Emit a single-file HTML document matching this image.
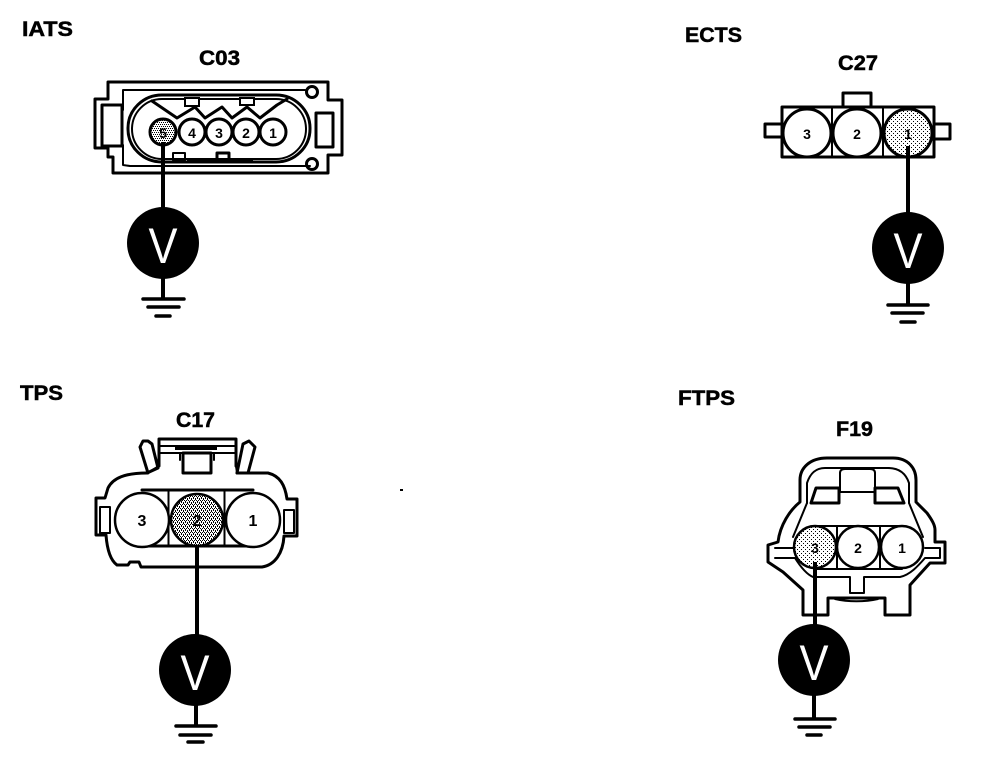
<!DOCTYPE html>
<html><head><meta charset="utf-8">
<style>
html,body{margin:0;padding:0;background:#fff}
svg{display:block}
text{font-family:"Liberation Sans",sans-serif}
.t{font-weight:700;font-size:21px;fill:#000;stroke:#000;stroke-width:.5}
.n{font-weight:700;fill:#000;text-anchor:middle;font-size:14px}
.nb{font-weight:700;fill:#000;text-anchor:middle;font-size:16px}
.v{font-size:50px;fill:#fff;text-anchor:middle}
.l{fill:none;stroke:#000;stroke-width:2;stroke-linejoin:round;stroke-linecap:round}
.th{fill:none;stroke:#000;stroke-width:3;stroke-linejoin:round;stroke-linecap:round}
.w{fill:none;stroke:#000;stroke-width:4}
.g{stroke:#000;stroke-width:3.5;stroke-linecap:round}
</style></head><body>
<svg width="992" height="764" viewBox="0 0 992 764" xmlns="http://www.w3.org/2000/svg">
<defs>
<pattern id="s" width="4" height="4" patternUnits="userSpaceOnUse">
<rect width="4" height="4" fill="#fff"/><rect x="0" y="0" width="1" height="1" fill="#000"/><rect x="2" y="0" width="1" height="1" fill="#000"/><rect x="1" y="2" width="1" height="1" fill="#000"/><rect x="3" y="2" width="1" height="1" fill="#000"/>
</pattern>
<pattern id="d" width="4" height="4" patternUnits="userSpaceOnUse">
<rect width="4" height="4" fill="#fff"/><rect x="0" y="0" width="1" height="1" fill="#000"/><rect x="2" y="0" width="1" height="1" fill="#000"/><rect x="1" y="1" width="1" height="1" fill="#000"/><rect x="1" y="2" width="1" height="1" fill="#000"/><rect x="3" y="2" width="1" height="1" fill="#000"/><rect x="3" y="3" width="1" height="1" fill="#000"/>
</pattern>
<pattern id="f" width="4" height="4" patternUnits="userSpaceOnUse">
<rect width="4" height="4" fill="#fff"/><rect x="1" y="1" width="1" height="1" fill="#000"/><rect x="3" y="3" width="1" height="1" fill="#000"/>
</pattern>
</defs>

<text class="t" x="22" y="36" textLength="51" lengthAdjust="spacingAndGlyphs">IATS</text>
<text class="t" x="685" y="42" textLength="57" lengthAdjust="spacingAndGlyphs">ECTS</text>
<text class="t" x="20" y="400" textLength="43" lengthAdjust="spacingAndGlyphs">TPS</text>
<text class="t" x="678" y="405" textLength="57" lengthAdjust="spacingAndGlyphs">FTPS</text>
<text class="t" x="199" y="65" textLength="41" lengthAdjust="spacingAndGlyphs">C03</text>
<text class="t" x="838" y="70" textLength="40" lengthAdjust="spacingAndGlyphs">C27</text>
<text class="t" x="176" y="427" textLength="39" lengthAdjust="spacingAndGlyphs">C17</text>
<text class="t" x="836" y="436" textLength="37" lengthAdjust="spacingAndGlyphs">F19</text>

<!-- C03 -->
<path class="th" d="M108 99V82H328V100H342V155H328V173H113V157H108V148H95V99Z"/>
<path class="l" d="M129 90H305M123 98V90H129M123 98V110M123 145V165L130 166H310"/>
<rect class="th" x="102" y="105" width="20" height="41"/>
<rect class="th" x="316" y="113" width="17" height="34"/>
<rect x="128" y="95" width="182" height="67" rx="34" ry="33" class="th"/>
<rect x="132" y="99" width="174" height="60" rx="30" ry="30" class="l"/>
<path class="th" d="M152 101L177 118L195 107L205 118L222 107L232 118L247 107L260 118L277 105L287 99"/>
<rect x="185" y="98" width="14" height="8" fill="#fff" stroke="#000" stroke-width="2"/>
<rect x="240" y="98" width="14" height="7" fill="#fff" stroke="#000" stroke-width="2"/>
<circle cx="312" cy="92" r="5.500" class="th" fill="#fff"/>
<circle cx="312" cy="164" r="5.500" class="th" fill="#fff"/>
<path class="w" d="M187 161H253"/>
<path class="th" d="M217 160V153H229V159"/>
<rect x="173" y="153" width="12" height="7" class="l"/>
<circle cx="163" cy="132" r="13" fill="url(#s)" stroke="#000" stroke-width="3"/>
<circle cx="192" cy="132" r="13" fill="#fff" stroke="#000" stroke-width="3"/>
<circle cx="219" cy="132" r="13" fill="#fff" stroke="#000" stroke-width="3"/>
<circle cx="246" cy="132" r="13" fill="#fff" stroke="#000" stroke-width="3"/>
<circle cx="273" cy="132" r="13" fill="#fff" stroke="#000" stroke-width="3"/>
<text class="n" x="163" y="138">5</text><text class="n" x="192" y="138">4</text><text class="n" x="219" y="138">3</text><text class="n" x="246" y="138">2</text><text class="n" x="273" y="138">1</text>
<line class="w" x1="163" y1="142" x2="163" y2="212"/>
<circle cx="163" cy="243" r="36" fill="#000"/>
<text class="v" x="163" y="263" textLength="29" lengthAdjust="spacingAndGlyphs">V</text>
<line class="w" x1="163" y1="278" x2="163" y2="299"/>
<path class="g" d="M143 299H184M148 307H179M156 316H170"/>

<!-- C27 -->
<path class="th" d="M843 107V93H871V107M782 124H765V137H782M934 124H950V139H934"/>
<rect class="th" x="782" y="107" width="152" height="50"/>
<path class="l" d="M832 107V157M883 107V157"/>
<circle cx="807" cy="133" r="24" fill="#fff" stroke="#000" stroke-width="3"/>
<circle cx="857" cy="133" r="24" fill="#fff" stroke="#000" stroke-width="3"/>
<circle cx="908" cy="133" r="24" fill="url(#f)" stroke="#000" stroke-width="3"/>
<text class="n" x="807" y="139">3</text><text class="n" x="857" y="139">2</text><text class="n" x="908" y="139">1</text>
<line class="w" x1="908" y1="146" x2="908" y2="216"/>
<circle cx="908" cy="248" r="36" fill="#000"/>
<text class="v" x="908" y="268" textLength="29" lengthAdjust="spacingAndGlyphs">V</text>
<line class="w" x1="908" y1="282" x2="908" y2="305"/>
<path class="g" d="M888 305H928M892 313H923M901 322H915"/>

<!-- C17 -->
<path class="th" d="M147 473C125 473 113 478 108 488L105 498H96V535H106C107 548 110 560 117 565H128L130 562H139L141 567H262C275 565 283 553 284 536H297V499H287C285 485 280 476 268 473H237"/>
<path class="th" d="M148 473L140 447L143 441H148L152 444L158 468L147 473M237 473L243 444L249 441L255 447L248 473"/>
<path class="th" d="M159 466V439H236V466"/>
<path class="l" d="M159 446H236M159 453H236M180 453V460M214 453V460"/>
<rect x="175" y="446" width="42" height="4" fill="#000"/>
<rect class="th" x="183" y="453" width="28" height="20" fill="#fff"/>
<path class="l" d="M159 466L147 473M237 473L236 466"/>
<path class="th" d="M142 490H253M142 546H253"/>
<path class="l" d="M168.500 490V546M224.500 490V546"/>
<rect class="l" x="100" y="507" width="10" height="26" fill="#fff"/>
<rect class="l" x="284" y="510" width="10" height="23" fill="#fff"/>
<circle cx="142" cy="520" r="27" fill="#fff" stroke="#000" stroke-width="2.500"/>
<circle cx="253" cy="520" r="27" fill="#fff" stroke="#000" stroke-width="2.500"/>
<circle cx="197" cy="520" r="26" fill="url(#d)" stroke="#000" stroke-width="2.500"/>
<text class="nb" x="142" y="526">3</text><text class="nb" x="197" y="526">2</text><text class="nb" x="253" y="526">1</text>
<line class="w" x1="197" y1="546" x2="197" y2="640"/>
<circle cx="195" cy="670" r="36" fill="#000"/>
<text class="v" x="195" y="690" textLength="29" lengthAdjust="spacingAndGlyphs">V</text>
<line class="w" x1="196" y1="704" x2="196" y2="726"/>
<path class="g" d="M176 726H216M180 735H211M188 742H203"/>

<!-- F19 -->
<path class="th" d="M827 458H893C908 458 916 468 916 480V502L927 513C932 520 935 525 935 530V542H945V563H930L910 585V615H885V598H828V615H803V590L783 572L768 562V545L778 542C780 525 790 510 800 502V480C800 468 810 458 827 458Z"/>
<path class="l" d="M807 503V483C810 474 815 468 825 468H888C900 468 906 474 909 483V503"/>
<path class="l" d="M840 492V473C840 470 842 469 845 469H870C873 469 875 470 875 473V492M840 492H875"/>
<path class="th" d="M811 503L816 488H839V503H811M875 503V488H898L904 503H875"/>
<path class="l" d="M807 503L793 537M909 503L923 537"/>
<path class="l" d="M775 548H793M775 558H795C800 566 806 574 813 577H850V593H864V577H900C910 575 918 566 925 558H940V548H925"/>
<path class="l" d="M835 599C848 602 865 602 878 599"/>
<path class="l" d="M815 526H902M815 569H902M837 526V569M880 526V569"/>
<circle cx="815" cy="547" r="21" fill="url(#f)" stroke="#000" stroke-width="2.500"/>
<circle cx="858" cy="547" r="21" fill="#fff" stroke="#000" stroke-width="2.500"/>
<circle cx="902" cy="547" r="21" fill="#fff" stroke="#000" stroke-width="2.500"/>
<text class="n" x="815" y="553">3</text><text class="n" x="858" y="553">2</text><text class="n" x="902" y="553">1</text>
<line class="w" x1="815" y1="562" x2="815" y2="630"/>
<circle cx="814" cy="660" r="36" fill="#000"/>
<text class="v" x="814" y="680" textLength="29" lengthAdjust="spacingAndGlyphs">V</text>
<line class="w" x1="814" y1="694" x2="814" y2="719"/>
<path class="g" d="M795 719H835M799 727H830M807 735H821"/>

<rect x="400" y="489" width="3" height="2" fill="#000"/>
</svg>
</body></html>
